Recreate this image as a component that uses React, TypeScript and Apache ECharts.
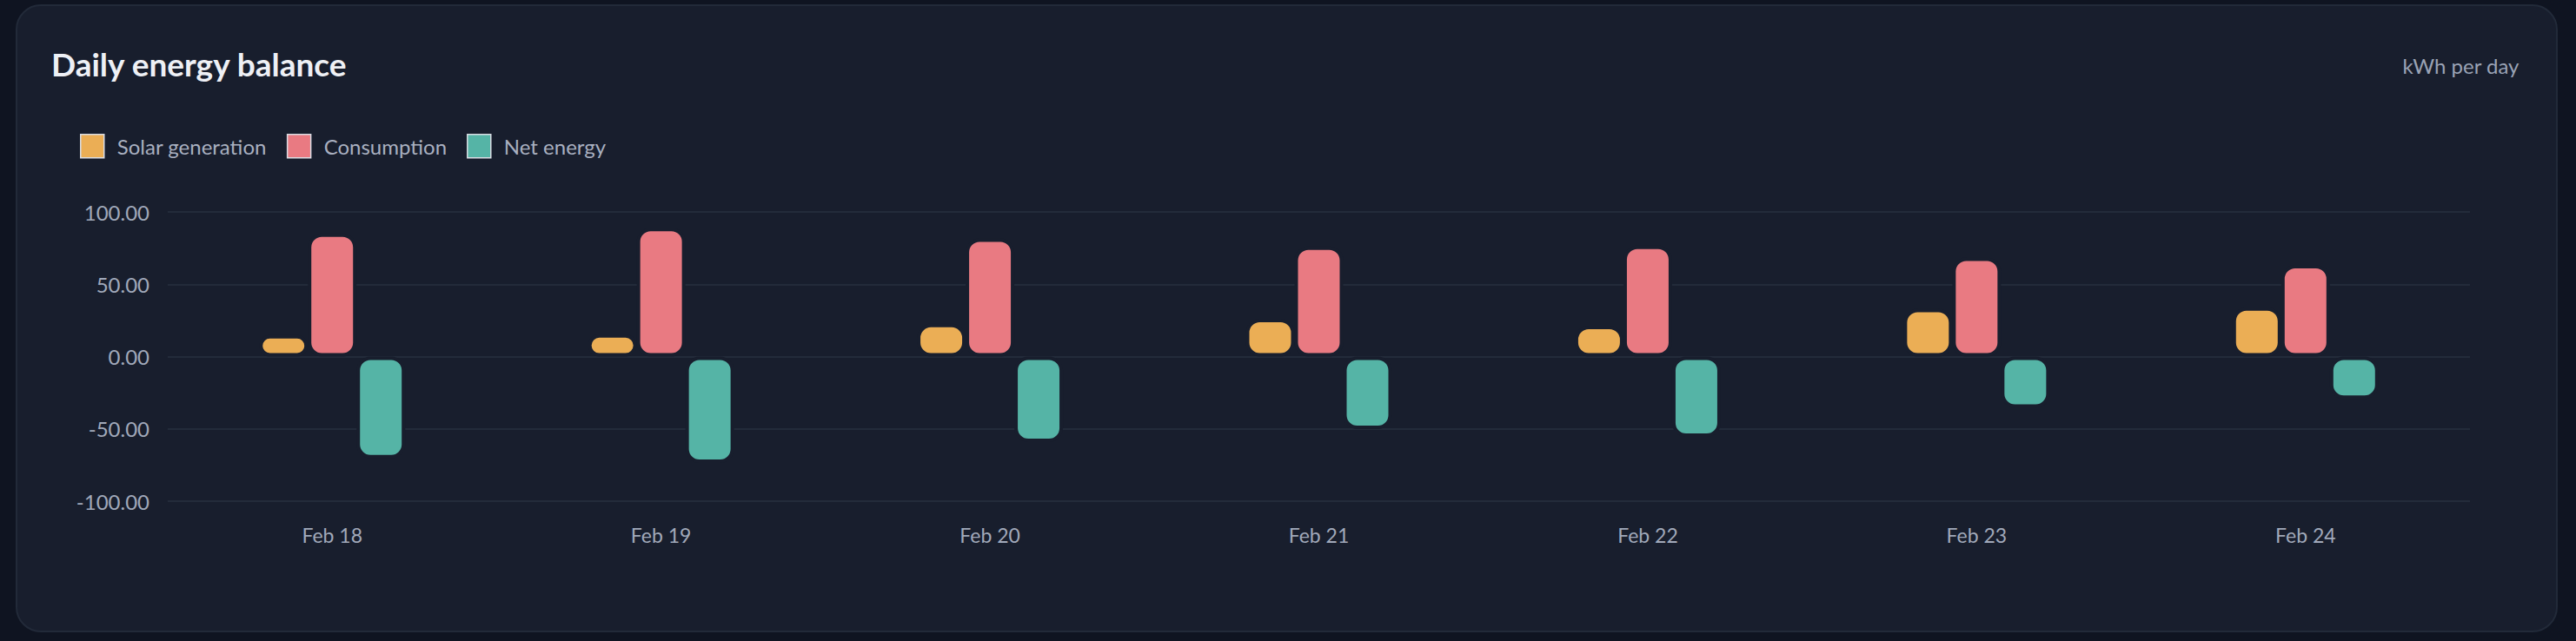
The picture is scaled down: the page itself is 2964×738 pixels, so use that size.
import * as echarts from "echarts";
import { useEffect, useRef } from "react";

const categories = ["Feb 18", "Feb 19", "Feb 20", "Feb 21", "Feb 22", "Feb 23", "Feb 24"];
const solarGeneration = [14.8, 15.4, 22.6, 26.1, 21.3, 33.1, 34.1];
const consumption = [85.2, 89.0, 81.7, 76.2, 76.8, 68.5, 63.4];
const netEnergy = [-70.4, -73.6, -59.1, -50.1, -55.5, -35.4, -29.3];
const yMin = -100;
const yMax = 100;
const yStep = 50;

const PAGE_BG = "#0f1421";
const CARD_BG = "#181e2d";
const FONT = "Lato, 'Noto Sans', sans-serif";

// the border in the card colour leaves a small gap between bars and at zero
const barStyle = (color: string) => ({
  color,
  borderColor: CARD_BG,
  borderWidth: 4,
  borderRadius: 14,
});

export default function App() {
  const chartRef = useRef<HTMLDivElement>(null);

  useEffect(() => {
    if (!chartRef.current) return;
    const chart = echarts.init(chartRef.current, null, { renderer: "svg" });

    chart.setOption({
      animation: false,
      backgroundColor: PAGE_BG,
      textStyle: { fontFamily: FONT },
      graphic: [
        {
          type: "rect",
          z: -10,
          shape: { x: 19, y: 6, width: 2923, height: 721, r: 28 },
          style: { fill: CARD_BG, stroke: "#222a39", lineWidth: 2 },
        },
      ],
      title: [
        {
          text: "Daily energy balance",
          left: 59,
          top: 55,
          padding: 0,
          textStyle: { color: "#eef0f5", fontSize: 37, fontWeight: "bold", fontFamily: FONT },
        },
        {
          text: "kWh per day",
          right: 65,
          top: 63,
          padding: 0,
          textStyle: { color: "#9aa3b5", fontSize: 24, fontWeight: "normal", fontFamily: FONT },
        },
      ],
      legend: {
        left: 92,
        top: 154,
        padding: 0,
        icon: "rect",
        itemWidth: 27,
        itemHeight: 27,
        itemGap: 23,
        itemStyle: { borderColor: "#d9dce3", borderWidth: 1.5, borderRadius: 2 },
        textStyle: { color: "#a9b0c0", fontSize: 24, padding: [0, 0, 0, 10], fontFamily: FONT },
      },
      grid: { left: 193, right: 122, top: 244, bottom: 161 },
      xAxis: {
        type: "category",
        data: categories,
        axisLine: { show: false },
        axisTick: { show: false },
        axisLabel: { color: "#a1a9ba", fontSize: 23, margin: 27, fontFamily: FONT },
      },
      yAxis: {
        type: "value",
        min: yMin,
        max: yMax,
        interval: yStep,
        axisLabel: {
          color: "#a1a9ba",
          fontSize: 24,
          margin: 21,
          fontFamily: FONT,
          formatter: (v: number) => v.toFixed(2),
        },
        splitLine: { lineStyle: { color: "#232b3a", width: 2 } },
      },
      series: [
        {
          name: "Solar generation",
          type: "bar",
          data: solarGeneration,
          barWidth: 56,
          barGap: "0%",
          itemStyle: barStyle("#ebae55"),
        },
        {
          name: "Consumption",
          type: "bar",
          data: consumption,
          barWidth: 56,
          barGap: "0%",
          itemStyle: barStyle("#e97a82"),
        },
        {
          name: "Net energy",
          type: "bar",
          data: netEnergy,
          barWidth: 56,
          barGap: "0%",
          itemStyle: barStyle("#55b4a6"),
        },
      ],
    });

    return () => chart.dispose();
  }, []);

  return (
    <div
      ref={chartRef}
      style={{ position: "fixed", left: 0, top: 0, width: 2964, height: 738 }}
    />
  );
}
